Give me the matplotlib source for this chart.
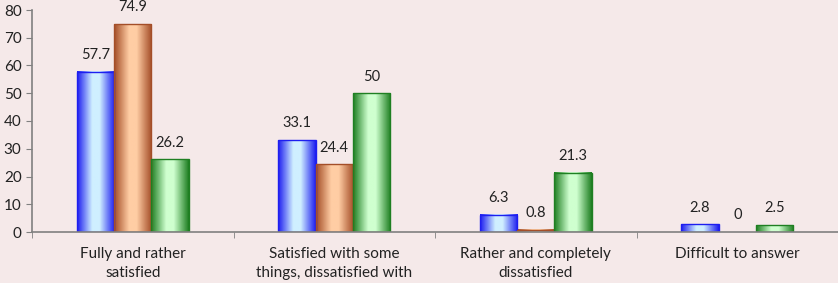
import matplotlib
matplotlib.use("Agg")
import matplotlib.pyplot as plt
import numpy as np
from matplotlib.colors import LinearSegmentedColormap

categories = [
    "Fully and rather\nsatisfied",
    "Satisfied with some\nthings, dissatisfied with",
    "Rather and completely\ndissatisfied",
    "Difficult to answer",
]
series_a = [57.7, 33.1, 6.3, 2.8]
series_b = [74.9, 24.4, 0.8, 0]
series_c = [26.2, 50, 21.3, 2.5]
value_labels = [["57.7", "33.1", "6.3", "2.8"],
                ["74.9", "24.4", "0.8", "0"],
                ["26.2", "50", "21.3", "2.5"]]

bg = "#F5E9E9"
# (edge colour, light centre colour)
styles = [("#1E1EF0", "#CFEFFF"), ("#A44E28", "#FFCDA4"), ("#1F7F22", "#CFFFCF")]

fig = plt.figure(figsize=(8.38, 2.83), dpi=100, facecolor=bg)
ax = fig.add_axes([32 / 838, 51 / 283, 806 / 838, 222 / 283])
ax.set_facecolor(bg)

width = 0.186
x = np.arange(len(categories))
grad = np.linspace(0, 1, 64)[None, :]

for i, (vals, (dark, light)) in enumerate(zip([series_a, series_b, series_c], styles)):
    cmap = LinearSegmentedColormap.from_list(
        f"g{i}", [(0, dark), (0.4, light), (0.6, light), (1, dark)])
    pos = x + (i - 1) * width
    for px, v, lab in zip(pos, vals, value_labels[i]):
        if v > 0:
            ax.imshow(grad, cmap=cmap, extent=(px - width / 2, px + width / 2, 0, v),
                      aspect="auto", zorder=2, interpolation="bilinear")
            ax.add_patch(plt.Rectangle((px - width / 2, 0), width, v, fill=False,
                                       edgecolor=dark, linewidth=1, zorder=3))
        ax.annotate(lab, (px, v), xytext=(0, 7), textcoords="offset points",
                    ha="center", va="bottom", fontsize=10.5, color="#222222",
                    family="Lato")

ax.set_xlim(-0.5, len(categories) - 0.5)
ax.set_ylim(0, 80)
ax.set_yticks(range(0, 81, 10))
ax.set_xticks(np.arange(len(categories) + 1) - 0.5, minor=True)
ax.set_xticks(x)
ax.set_xticklabels(categories, fontsize=11, family="Lato", color="#222222",
                   va="top", linespacing=1.45)
ax.tick_params(axis="x", which="major", length=0, pad=11)
ax.tick_params(axis="x", which="minor", length=4, color="#808080", direction="out")
ax.tick_params(axis="y", length=4, color="#808080", labelsize=11, labelcolor="#222222")
for lab in ax.get_yticklabels():
    lab.set_family("Lato")

for s in ["top", "right"]:
    ax.spines[s].set_visible(False)
for s in ["left", "bottom"]:
    ax.spines[s].set_color("#808080")
    ax.spines[s].set_linewidth(1.2)
ax.spines["bottom"].set_zorder(4)

fig.savefig("out.png", dpi=100, facecolor=bg)
